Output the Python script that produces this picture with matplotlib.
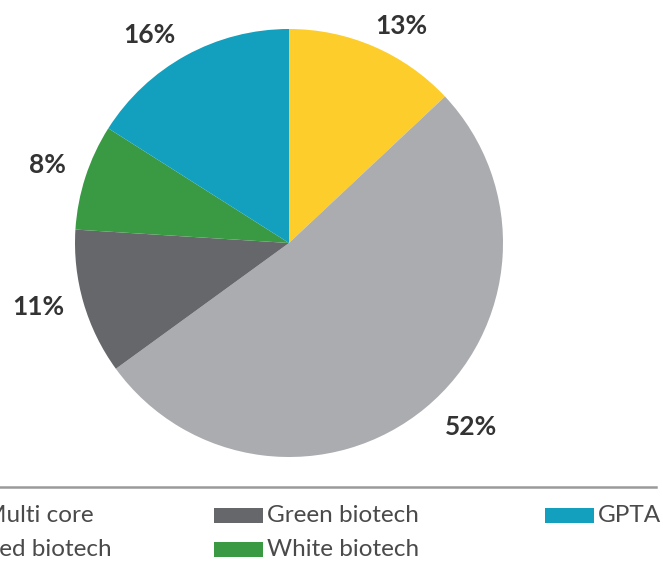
import numpy as np
import matplotlib.pyplot as plt
from matplotlib.patches import Rectangle
from matplotlib.lines import Line2D

segments = ["Multi core", "Red biotech", "Green biotech", "White biotech", "GPTA"]
shares = [13, 52, 11, 8, 16]
colors = ["#FDCD2B", "#ABACB0", "#66676B", "#3A9A44", "#139FBE"]

# where each percentage sits: distance from centre (radii) and turn off the wedge middle (deg)
label_r = [1.14, 1.21, 1.21, 1.185, 1.17]
label_turn = [-4, 5, -2, 0, 5]

W, H = 663, 563
fig = plt.figure(figsize=(W / 100, H / 100), dpi=100)

# pie centre / radius in pixels
cx, cy, r = 289, 243, 214
lim = 1.3
side = 2 * lim * r
ax = fig.add_axes([(cx - side / 2) / W, (H - cy - side / 2) / H, side / W, side / H])
wedges, _ = ax.pie(shares, colors=colors, startangle=90, counterclock=False,
                   wedgeprops=dict(linewidth=0))
for w, v, d, t in zip(wedges, shares, label_r, label_turn):
    mid = np.deg2rad((w.theta1 + w.theta2) / 2 + t)
    ax.text(d * np.cos(mid), d * np.sin(mid), f"{v}%", ha="center", va="center",
            fontsize=19, fontweight="bold", color="#333333", family="Lato")
ax.set_xlim(-lim, lim)
ax.set_ylim(-lim, lim)
ax.set_aspect("equal")
ax.axis("off")

# separator line above the legend
fig.add_artist(Line2D([0, 656 / W], [1 - 487 / H] * 2, color="#9a9a9a", lw=1.8))

# legend laid out in three columns, two rows
col_x = [-16, 267, 598]
row_y = [516, 550]
for i, (name, c) in enumerate(zip(segments, colors)):
    col, row = divmod(i, 2)
    tx, ty = col_x[col], row_y[row]
    fig.add_artist(Rectangle(((tx - 53) / W, 1 - (ty + 7) / H), 49 / W, 15 / H,
                             color=c, lw=0))
    fig.text(tx / W, 1 - ty / H, name, fontsize=17.5, color="#4a4a4a",
             family="Lato", va="center", ha="left")

fig.savefig("out.png", dpi=100)
